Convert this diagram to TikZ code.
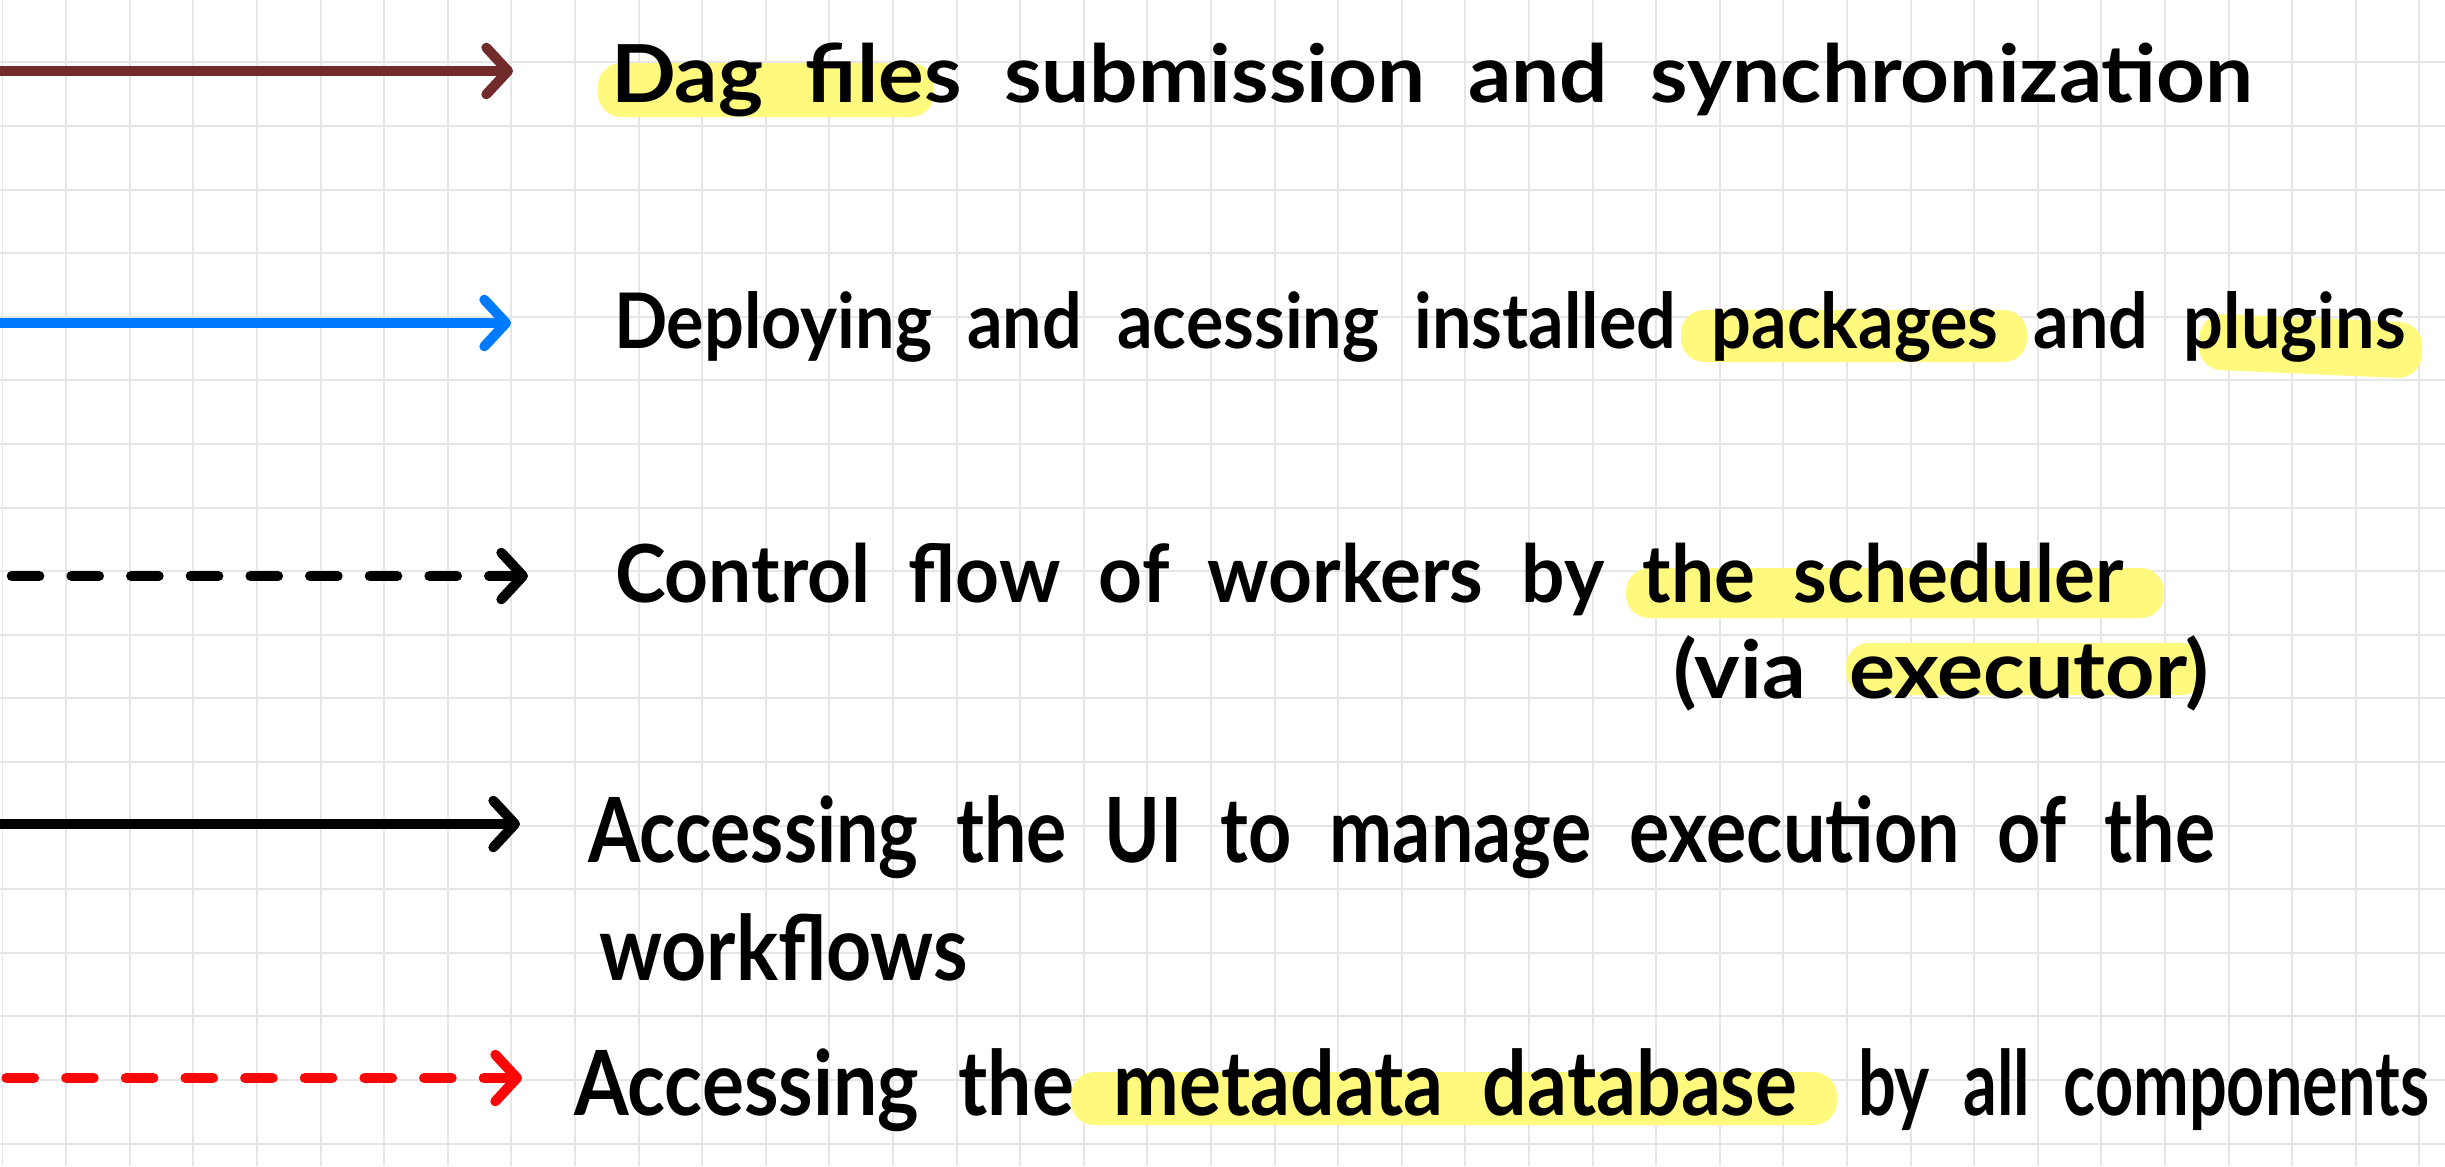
\documentclass[tikz,border=0pt]{standalone}
\usepackage{fontspec}
\setmainfont{Lato}
\usepackage{graphicx}
\usetikzlibrary{arrows.meta}
\definecolor{brownarrow}{RGB}{114,43,43}
\definecolor{bluearrow}{RGB}{0,122,255}
\definecolor{redarrow}{RGB}{250,8,8}
\definecolor{hlyellow}{RGB}{255,250,125}
\definecolor{gridgray}{RGB}{230,230,230}
\newcommand{\handline}[3]{\resizebox{#1}{\height}{\fontsize{#2}{#2}\selectfont\bfseries\spaceskip=0.5em\relax #3}}
\begin{document}
\begin{tikzpicture}[x=0.3pt,y=-0.3pt,
  gridline/.style={draw=gridgray, line width=0.6pt},
  legarrow/.style={line width=3pt, line cap=round, line join=round,
    -{Straight Barb[length=6.5pt,width=14pt,line cap=round,line join=round]}},
  dasharrow/.style={legarrow, dash pattern=on 8.3pt off 9.6pt},
  hl/.style={fill=hlyellow, rounded corners=7pt},
  lbl/.style={anchor=base west, inner sep=0pt, outer sep=0pt, text=black}
]
\fill[white] (0,0) rectangle (2445,1166);
\useasboundingbox (0,0) rectangle (2445,1166);
% grid
\foreach \i in {0,...,38} \draw[gridline] ({2.5+63.6*\i},0) -- ({2.5+63.6*\i},1166);
\foreach \j in {1,...,18} \draw[gridline] (0,{-1.3+63.6*\j}) -- (2445,{-1.3+63.6*\j});
% highlights
\fill[hl] (598,63) rectangle (934,117);
\fill[hl] (1681,310) rectangle (2027,362);
\fill[hl, rotate around={-2.5:(2310,347)}] (2199,318) rectangle (2422,374);
\fill[hl] (1626,568) rectangle (2164,618);
\fill[hl] (1846,643) rectangle (2205,695);
\fill[hl] (1071,1072) rectangle (1837,1125);
% arrow end points
\coordinate (s1) at (0,71);    \coordinate (e1) at (513,71);
\coordinate (s2) at (0,323);   \coordinate (e2) at (511,323);
\coordinate (s3) at (11.7,576); \coordinate (e3) at (528,576);
\coordinate (s4) at (0,824);   \coordinate (e4) at (520,824);
\coordinate (s5) at (6.4,1078); \coordinate (e5) at (522,1078);
\draw[legarrow, draw=brownarrow] (s1) -- (e1);
\draw[legarrow, draw=bluearrow] (s2) -- (e2);
\draw[dasharrow, draw=black] (s3) -- (e3);
\draw[legarrow, draw=black] (s4) -- (e4);
\draw[dasharrow, draw=redarrow] (s5) -- (e5);
% labels
\node[lbl] (t1) at (611,102) {\handline{492.6pt}{24}{Dag files submission and synchronization}};
\node[lbl] (t2) at (614,348) {\handline{537.3pt}{23}{Deploying and acessing installed packages and plugins}};
\node[lbl] (t3) at (615,602) {\handline{452.4pt}{24}{Control flow of workers by the scheduler}};
\node[lbl] (t3b) at (1673,698) {\handline{160.8pt}{24}{(via executor)}};
\node[lbl] (t4) at (588,862) {\handline{488.1pt}{27}{Accessing the UI to manage execution of the}};
\node[lbl] (t4b) at (599,980) {\handline{110.7pt}{27}{workflows}};
\node[lbl] (t5a) at (574,1115) {\handline{366.9pt}{27}{Accessing the metadata database}};
\node[lbl] (t5b) at (1858,1115) {\handline{171.3pt}{27}{by all components}};
\end{tikzpicture}
\end{document}
